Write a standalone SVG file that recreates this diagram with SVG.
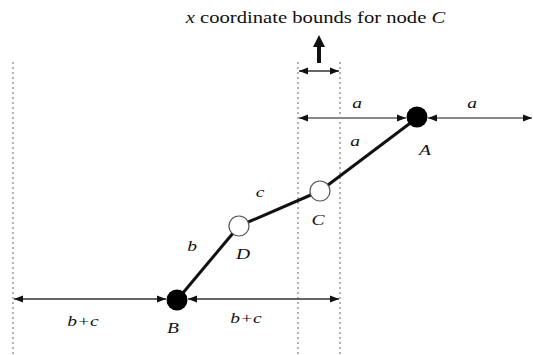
<svg xmlns="http://www.w3.org/2000/svg" width="533" height="355" viewBox="0 0 533 355">
<style>
.guide{stroke:#999;stroke-width:1.5;stroke-dasharray:2,3;fill:none}
.dim{stroke:#888;stroke-width:2;fill:none}
.dimd{stroke:#333;stroke-width:1.5;fill:none}
.link{stroke:#111;stroke-width:3;fill:none}
.open{fill:#fff;stroke:#555;stroke-width:1.2}
.solid{fill:#000}
</style>
<defs>
<marker id="ah" viewBox="0 0 10 10" refX="10" refY="5" markerWidth="9" markerHeight="9" markerUnits="userSpaceOnUse" orient="auto-start-reverse">
<path d="M0,1 L10,5 L0,9 Z" fill="#111"/>
</marker>
</defs>
<rect width="533" height="355" fill="#fff"/>
<g font-family="'Liberation Serif', 'Times New Roman', 'DejaVu Serif', serif" font-size="16" fill="#111" text-anchor="middle" font-style="italic">
<text transform="translate(315.5,23) scale(1.29,1)"><tspan>x</tspan><tspan font-style="normal"> coordinate bounds for node </tspan><tspan>C</tspan></text>
</g>
<g id="guides">
<line class="guide" x1="13" y1="62" x2="13" y2="355"/>
<line class="guide" x1="298" y1="62" x2="298" y2="355"/>
<line class="guide" x1="340" y1="62" x2="340" y2="355"/>
</g>
<g id="connectors">
<line class="dimd" x1="299" y1="71" x2="339" y2="71" marker-start="url(#ah)" marker-end="url(#ah)"/>
<path d="M317,63 L317,47 L313,47 L319,35 L325,47 L321,47 L321,63 Z" fill="#111"/>
<line class="dim" x1="299" y1="118" x2="406" y2="118" marker-start="url(#ah)" marker-end="url(#ah)"/>
<line class="dim" x1="428" y1="118" x2="532" y2="118" marker-start="url(#ah)" marker-end="url(#ah)"/>
<line class="dimd" x1="14" y1="299" x2="166" y2="299" marker-start="url(#ah)" marker-end="url(#ah)"/>
<line class="dimd" x1="188" y1="299" x2="339" y2="299" marker-start="url(#ah)" marker-end="url(#ah)"/>
<line class="link" x1="417" y1="118" x2="320" y2="191"/>
<line class="link" x1="320" y1="191" x2="239" y2="226"/>
<line class="link" x1="239" y1="226" x2="177" y2="300"/>
</g>
<g font-family="'Liberation Serif', 'Times New Roman', 'DejaVu Serif', serif" font-size="15" fill="#111" text-anchor="middle" font-style="italic">
<g id="node-A"><circle class="solid" cx="417" cy="117" r="10.5"/><text transform="translate(425,155) scale(1.3,1)">A</text></g>
<g id="node-C"><circle class="open" cx="320" cy="191" r="10"/><text transform="translate(318,225) scale(1.3,1)">C</text></g>
<g id="node-D"><circle class="open" cx="239" cy="226" r="10"/><text transform="translate(243,259) scale(1.3,1)">D</text></g>
<g id="node-B"><circle class="solid" cx="177" cy="300" r="10.5"/><text transform="translate(173,333) scale(1.3,1)">B</text></g>
<g id="labels">
<text transform="translate(357,108) scale(1.3,1)">a</text>
<text transform="translate(472,108) scale(1.3,1)">a</text>
<text transform="translate(355,146) scale(1.3,1)">a</text>
<text transform="translate(260,197) scale(1.3,1)">c</text>
<text transform="translate(192,251) scale(1.3,1)">b</text>
<text transform="translate(83,326) scale(1.3,1)">b+c</text>
<text transform="translate(246,323) scale(1.3,1)">b+c</text>
</g>
</g>
</svg>
